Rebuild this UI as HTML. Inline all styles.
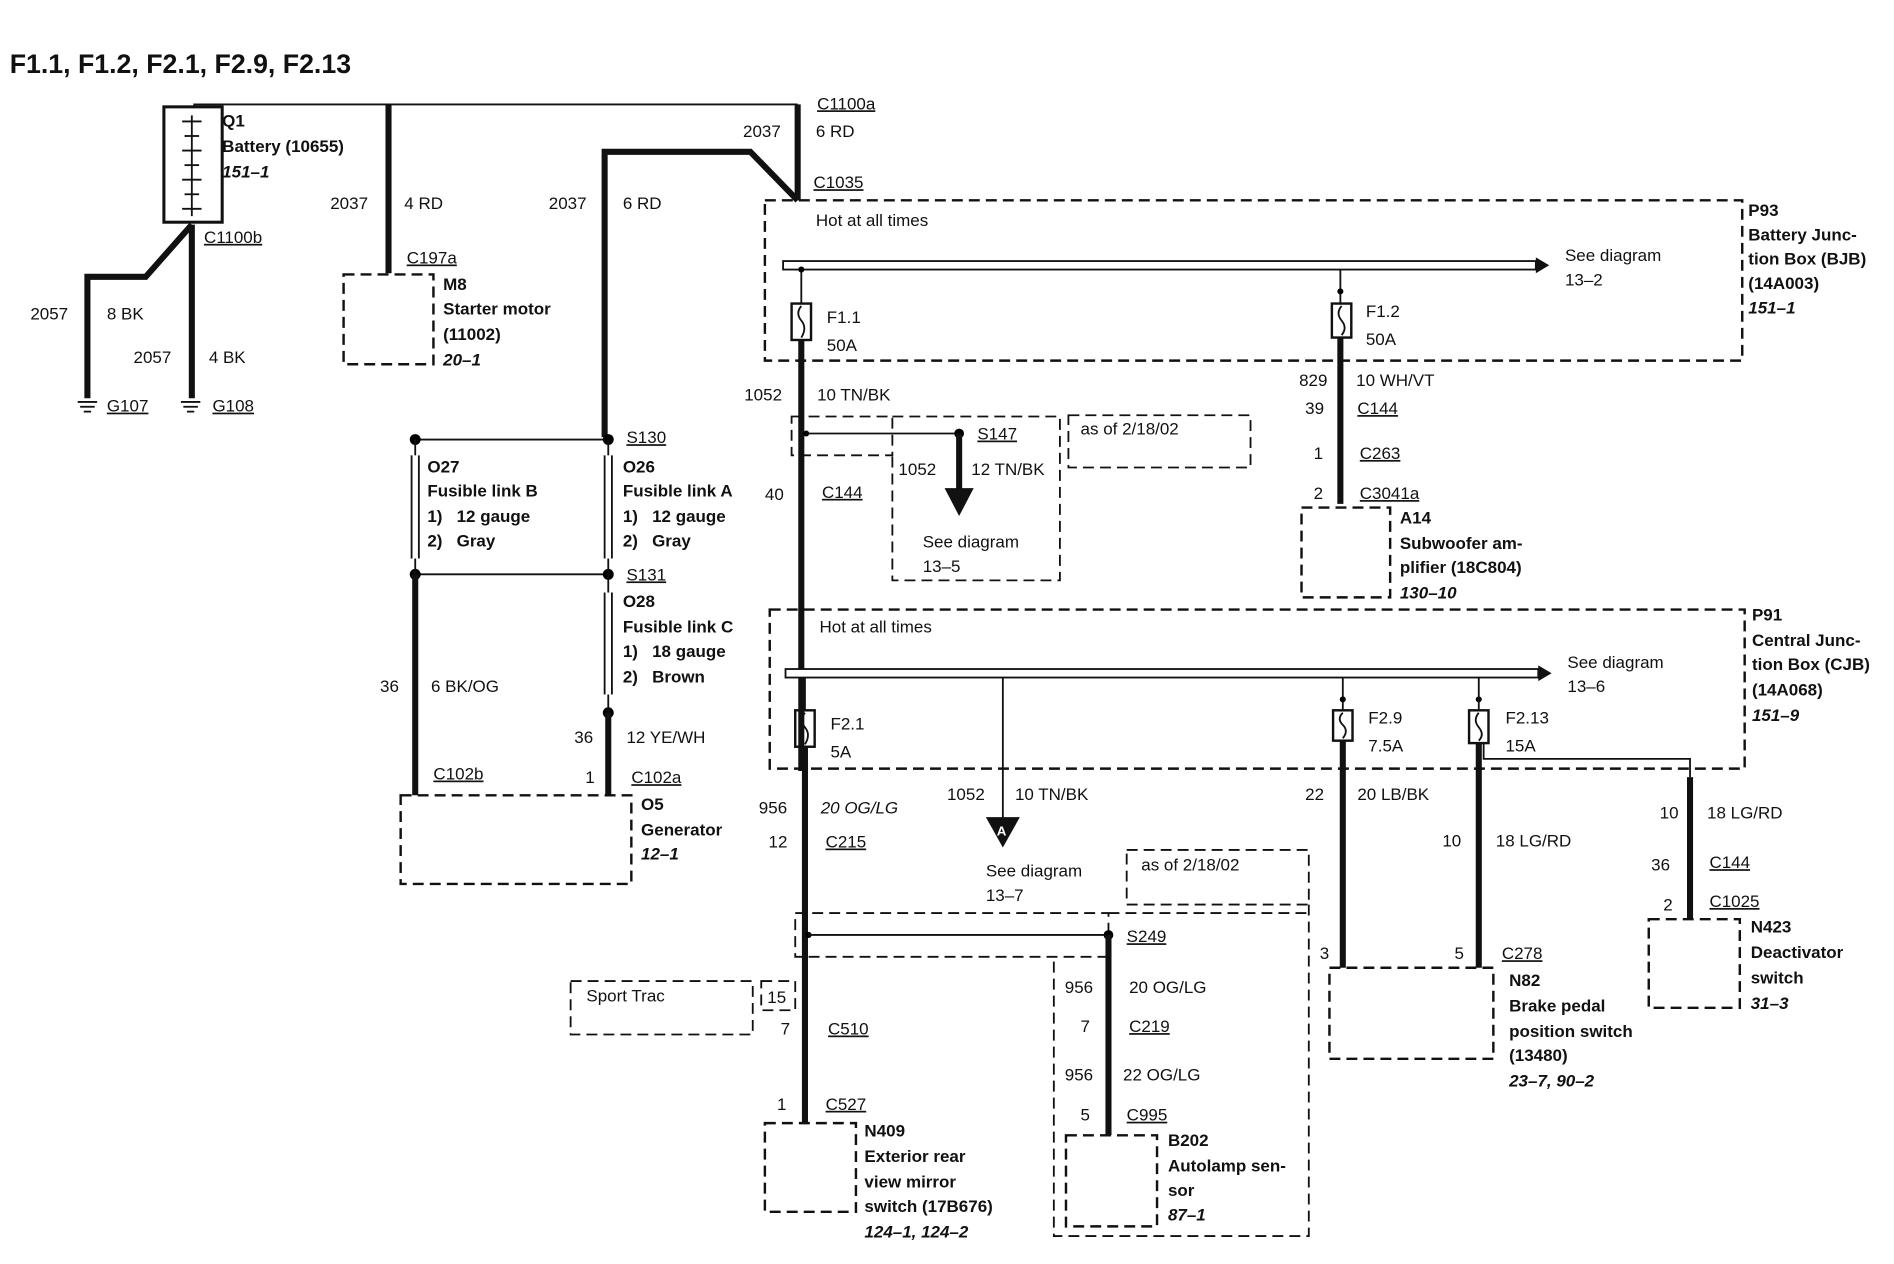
<!DOCTYPE html>
<html><head><meta charset="utf-8"><style>
html,body{margin:0;padding:0;background:#fff}
svg{display:block}
text{font-family:"Liberation Sans",Arial,sans-serif;font-size:14px;fill:#111}
.b{font-weight:bold}
.i{font-style:italic;font-weight:bold}
.t{fill:none;stroke:#111;stroke-width:1.5}
.k{fill:none;stroke:#111;stroke-width:5}
.d{fill:none;stroke:#111;stroke-width:2;stroke-dasharray:9,5}
.u{text-decoration:underline}
</style></head><body>
<svg width="1894" height="1264" viewBox="0 0 1560 1041" preserveAspectRatio="none" xmlns="http://www.w3.org/2000/svg">
<text x="8" y="60" style="font-size:22px;font-weight:bold">F1.1, F1.2, F2.1, F2.9, F2.13</text>
<!-- battery -->
<rect x="135" y="88" width="48" height="95" class="t" style="stroke-width:2.5"/>
<line x1="158" y1="95" x2="158" y2="178" class="t"/>
<g class="t"><line x1="150" y1="100" x2="166" y2="100"/><line x1="152" y1="112" x2="164" y2="112"/><line x1="150" y1="124" x2="166" y2="124"/><line x1="152" y1="136" x2="164" y2="136"/><line x1="150" y1="148" x2="166" y2="148"/><line x1="152" y1="160" x2="164" y2="160"/><line x1="150" y1="172" x2="166" y2="172"/></g>
<polyline points="160,88 160,86 657,86" class="t"/>
<text x="183" y="104" class="b">Q1</text><text x="183" y="125" class="b">Battery (10655)</text><text x="183" y="146" class="i">151–1</text>
<text x="168" y="200" class="u">C1100b</text>
<polyline points="158,185 158,328" class="k"/>
<polyline points="158,185 120,228 72,228 72,328" class="k"/>
<text x="25" y="263">2057</text><text x="88" y="263">8 BK</text><text x="110" y="299">2057</text><text x="172" y="299">4 BK</text>
<g class="t"><line x1="64" y1="331" x2="80" y2="331"/><line x1="66" y1="335" x2="78" y2="335"/><line x1="69" y1="339" x2="75" y2="339"/><line x1="149" y1="331" x2="165" y2="331"/><line x1="151" y1="335" x2="163" y2="335"/><line x1="154" y1="339" x2="160" y2="339"/></g>
<text x="88" y="339" class="u">G107</text><text x="175" y="339" class="u">G108</text>
<!-- starter -->
<line x1="320" y1="86" x2="320" y2="225" class="k"/>
<text x="272" y="172">2037</text><text x="333" y="172">4 RD</text>
<text x="335" y="217" class="u">C197a</text>
<rect x="283" y="226" width="74" height="74" class="d"/>
<text x="365" y="239" class="b">M8</text><text x="365" y="259" class="b">Starter motor</text><text x="365" y="280" class="b">(11002)</text><text x="365" y="301" class="i">20–1</text>
<!-- 6RD -->
<polyline points="498,360 498,125 618,125 657,165" class="k"/>
<line x1="657" y1="86" x2="657" y2="165" class="k"/>
<text x="452" y="172">2037</text><text x="513" y="172">6 RD</text>
<text x="673" y="90" class="u">C1100a</text><text x="612" y="113">2037</text><text x="672" y="113">6 RD</text>
<text x="670" y="155" class="u">C1035</text>
<!-- fusible links -->
<line x1="342" y1="362" x2="501" y2="362" class="t"/><line x1="342" y1="473" x2="501" y2="473" class="t"/>
<circle cx="342" cy="362" r="4.5"/><circle cx="501" cy="362" r="4.5"/><circle cx="342" cy="473" r="4.5"/><circle cx="501" cy="473" r="4.5"/><circle cx="501" cy="587" r="4.5"/>
<g class="t"><line x1="339" y1="375" x2="339" y2="460"/><line x1="345" y1="375" x2="345" y2="460"/><line x1="342" y1="362" x2="342" y2="375"/><line x1="342" y1="460" x2="342" y2="473"/>
<line x1="498" y1="375" x2="498" y2="460"/><line x1="504" y1="375" x2="504" y2="460"/><line x1="501" y1="362" x2="501" y2="375"/><line x1="501" y1="460" x2="501" y2="473"/>
<line x1="498" y1="488" x2="498" y2="572"/><line x1="504" y1="488" x2="504" y2="572"/><line x1="501" y1="473" x2="501" y2="488"/><line x1="501" y1="572" x2="501" y2="587"/></g>
<text x="516" y="365" class="u">S130</text><text x="516" y="478" class="u">S131</text>
<text x="352" y="389" class="b">O27</text><text x="352" y="409" class="b">Fusible link B</text><text x="352" y="430" class="b">1)&#160;&#160;&#160;12 gauge</text><text x="352" y="450" class="b">2)&#160;&#160;&#160;Gray</text>
<text x="513" y="389" class="b">O26</text><text x="513" y="409" class="b">Fusible link A</text><text x="513" y="430" class="b">1)&#160;&#160;&#160;12 gauge</text><text x="513" y="450" class="b">2)&#160;&#160;&#160;Gray</text>
<text x="513" y="500" class="b">O28</text><text x="513" y="521" class="b">Fusible link C</text><text x="513" y="541" class="b">1)&#160;&#160;&#160;18 gauge</text><text x="513" y="562" class="b">2)&#160;&#160;&#160;Brown</text>
<line x1="342" y1="473" x2="342" y2="655" class="k"/><line x1="501" y1="587" x2="501" y2="655" class="k"/>
<text x="313" y="570">36</text><text x="355" y="570">6 BK/OG</text><text x="473" y="612">36</text><text x="516" y="612">12 YE/WH</text>
<text x="357" y="642" class="u">C102b</text><text x="482" y="645">1</text><text x="520" y="645" class="u">C102a</text>
<rect x="330" y="655" width="190" height="73" class="d"/>
<text x="528" y="667" class="b">O5</text><text x="528" y="688" class="b">Generator</text><text x="528" y="708" class="i">12–1</text>
<!-- P93 -->
<rect x="630" y="165" width="805" height="132" class="d"/>
<text x="672" y="186">Hot at all times</text>
<rect x="645" y="215" width="620" height="7" fill="#fff" stroke="#111" stroke-width="1.5"/>
<polygon points="1265,212 1276,218.5 1265,225" fill="#111"/>
<text x="1289" y="215">See diagram</text><text x="1289" y="235">13–2</text>
<text x="1440" y="178" class="b">P93</text><text x="1440" y="198" class="b">Battery Junc-</text><text x="1440" y="218" class="b">tion Box (BJB)</text><text x="1440" y="238" class="b">(14A003)</text><text x="1440" y="258" class="i">151–1</text>
<line x1="660" y1="222" x2="660" y2="250" class="t"/><rect x="652" y="250" width="16" height="30" class="t" style="stroke-width:2"/><path d="M660,252 q-5,6 0,12 q5,6 0,14" class="t"/>
<text x="681" y="266">F1.1</text><text x="681" y="289">50A</text>
<line x1="1104" y1="222" x2="1104" y2="250" class="t"/><rect x="1097" y="250" width="16" height="28" class="t" style="stroke-width:2"/><path d="M1105,252 q-5,6 0,12 q5,6 0,12" class="t"/>
<circle cx="660" cy="222" r="2.5"/><circle cx="1104" cy="240" r="2.5"/>
<text x="1125" y="261">F1.2</text><text x="1125" y="284">50A</text>
<line x1="660" y1="280" x2="660" y2="635" class="k"/>
<text x="613" y="330">1052</text><text x="673" y="330">10 TN/BK</text>
<rect x="652" y="343" width="83" height="32" class="d" style="stroke-width:1.5"/>
<circle cx="664" cy="357" r="2.5"/>
<line x1="664" y1="357" x2="790" y2="357" class="t"/>
<polyline points="735,343 873,343 873,478 735,478 735,375" class="d" style="stroke-width:1.5"/>
<rect x="880" y="342" width="150" height="43" class="d" style="stroke-width:1.5"/>
<text x="890" y="358">as of 2/18/02</text>
<circle cx="790" cy="357" r="4"/><line x1="790" y1="357" x2="790" y2="405" class="k"/><polygon points="778,402 802,402 790,425" fill="#111"/>
<text x="805" y="362" class="u">S147</text><text x="740" y="391">1052</text><text x="800" y="391">12 TN/BK</text>
<text x="760" y="451">See diagram</text><text x="760" y="471">13–5</text>
<text x="630" y="412">40</text><text x="677" y="410" class="u">C144</text>
<line x1="1104" y1="278" x2="1104" y2="415" class="k"/>
<text x="1070" y="318">829</text><text x="1117" y="318">10 WH/VT</text><text x="1075" y="341">39</text><text x="1118" y="341" class="u">C144</text>
<text x="1082" y="378">1</text><text x="1120" y="378" class="u">C263</text><text x="1082" y="411">2</text><text x="1120" y="411" class="u">C3041a</text>
<rect x="1072" y="418" width="73" height="74" class="d"/>
<text x="1153" y="431" class="b">A14</text><text x="1153" y="452" class="b">Subwoofer am-</text><text x="1153" y="472" class="b">plifier (18C804)</text><text x="1153" y="493" class="i">130–10</text>
<!-- P91 -->
<rect x="634" y="502" width="803" height="131" class="d"/>
<text x="675" y="521">Hot at all times</text>
<rect x="647" y="551" width="620" height="7" fill="#fff" stroke="#111" stroke-width="1.5"/>
<polygon points="1267,548 1278,554.5 1267,561" fill="#111"/>
<text x="1291" y="550">See diagram</text><text x="1291" y="570">13–6</text>
<text x="1443" y="511" class="b">P91</text><text x="1443" y="532" class="b">Central Junc-</text><text x="1443" y="552" class="b">tion Box (CJB)</text><text x="1443" y="573" class="b">(14A068)</text><text x="1443" y="594" class="i">151–9</text>
<line x1="663" y1="558" x2="663" y2="585" class="t"/><rect x="655" y="585" width="16" height="30" class="t" style="stroke-width:2"/><path d="M663,587 q-5,6 0,12 q5,6 0,14" class="t"/>
<text x="684" y="601">F2.1</text><text x="684" y="624">5A</text>
<line x1="826" y1="558" x2="826" y2="675" class="t"/><polygon points="812,673 840,673 826,698" fill="#111"/><text x="821" y="688" style="fill:#fff;font-size:11px;font-weight:bold">A</text>
<text x="780" y="659">1052</text><text x="836" y="659">10 TN/BK</text><text x="812" y="722">See diagram</text><text x="812" y="742">13–7</text>
<rect x="928" y="700" width="150" height="45" class="d" style="stroke-width:1.5"/><text x="940" y="717">as of 2/18/02</text>
<line x1="1106" y1="558" x2="1106" y2="585" class="t"/><rect x="1098" y="585" width="16" height="25" class="t" style="stroke-width:2"/><path d="M1106,587 q-5,5 0,10 q5,5 0,11" class="t"/>
<circle cx="1106" cy="576" r="2.5"/><circle cx="1218" cy="576" r="2.5"/>
<text x="1127" y="596">F2.9</text><text x="1127" y="619">7.5A</text>
<line x1="1218" y1="558" x2="1218" y2="585" class="t"/><rect x="1210" y="585" width="16" height="27" class="t" style="stroke-width:2"/><path d="M1218,587 q-5,6 0,12 q5,6 0,11" class="t"/>
<text x="1240" y="596">F2.13</text><text x="1240" y="619">15A</text>
<line x1="1106" y1="610" x2="1106" y2="797" class="k"/><line x1="1218" y1="612" x2="1218" y2="797" class="k"/>
<polyline points="1222,612 1222,625 1392,625 1392,640" class="t"/><line x1="1392" y1="640" x2="1392" y2="757" class="k"/>
<text x="1075" y="659">22</text><text x="1118" y="659">20 LB/BK</text><text x="1188" y="697">10</text><text x="1232" y="697">18 LG/RD</text>
<text x="1367" y="674">10</text><text x="1406" y="674">18 LG/RD</text><text x="1360" y="717">36</text><text x="1408" y="715" class="u">C144</text>
<text x="1370" y="750">2</text><text x="1408" y="747" class="u">C1025</text>
<rect x="1358" y="757" width="75" height="73" class="d"/>
<text x="1442" y="768" class="b">N423</text><text x="1442" y="789" class="b">Deactivator</text><text x="1442" y="810" class="b">switch</text><text x="1442" y="831" class="i">31–3</text>
<text x="1087" y="790">3</text><text x="1198" y="790">5</text><text x="1237" y="790" class="u">C278</text>
<rect x="1095" y="797" width="135" height="75" class="d"/>
<text x="1243" y="812" class="b">N82</text><text x="1243" y="833" class="b">Brake pedal</text><text x="1243" y="854" class="b">position switch</text><text x="1243" y="874" class="b">(13480)</text><text x="1243" y="895" class="i">23–7, 90–2</text>
<!-- lower -->
<line x1="663" y1="615" x2="663" y2="925" class="k"/>
<text x="625" y="670">956</text><text x="676" y="670" style="font-style:italic">20 OG/LG</text><text x="633" y="698">12</text><text x="680" y="698" class="u">C215</text>
<rect x="655" y="752" width="258" height="36" class="d" style="stroke-width:1.5"/>
<polyline points="1078,745 1078,1018 868,1018 868,788" class="d" style="stroke-width:1.5"/>
<line x1="913" y1="752" x2="1078" y2="752" class="d" style="stroke-width:1.5"/>
<circle cx="666" cy="770" r="2.5"/><line x1="666" y1="770" x2="913" y2="770" class="t"/>
<circle cx="913" cy="770" r="4"/><line x1="913" y1="770" x2="913" y2="935" class="k"/>
<text x="928" y="776" class="u">S249</text>
<text x="877" y="818">956</text><text x="930" y="818">20 OG/LG</text><text x="890" y="850">7</text><text x="930" y="850" class="u">C219</text>
<text x="877" y="890">956</text><text x="925" y="890">22 OG/LG</text><text x="890" y="923">5</text><text x="928" y="923" class="u">C995</text>
<rect x="878" y="935" width="75" height="75" class="d"/>
<text x="962" y="944" class="b">B202</text><text x="962" y="965" class="b">Autolamp sen-</text><text x="962" y="985" class="b">sor</text><text x="962" y="1005" class="i">87–1</text>
<rect x="470" y="808" width="150" height="44" class="d" style="stroke-width:1.5"/><text x="483" y="825">Sport Trac</text>
<rect x="627" y="808" width="28" height="24" class="d" style="stroke-width:1.5"/><text x="632" y="826">15</text>
<text x="643" y="852">7</text><text x="682" y="852" class="u">C510</text>
<text x="640" y="914">1</text><text x="680" y="914" class="u">C527</text>
<rect x="630" y="925" width="75" height="73" class="d"/>
<text x="712" y="936" class="b">N409</text><text x="712" y="957" class="b">Exterior rear</text><text x="712" y="978" class="b">view mirror</text><text x="712" y="998" class="b">switch (17B676)</text><text x="712" y="1019" class="i">124–1, 124–2</text>
</svg>
</body></html>
